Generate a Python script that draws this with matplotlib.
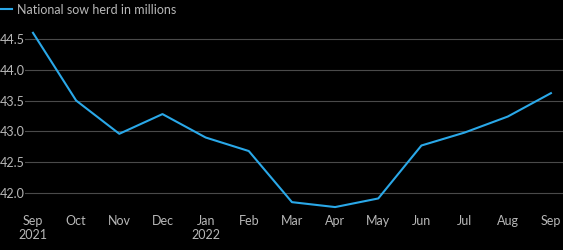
import matplotlib.pyplot as plt

months = ['Sep\n2021', 'Oct', 'Nov', 'Dec', 'Jan\n2022', 'Feb', 'Mar',
          'Apr', 'May', 'Jun', 'Jul', 'Aug', 'Sep']
sow_herd = [44.60, 43.50, 42.96, 43.28, 42.90, 42.68, 41.85,
            41.77, 41.91, 42.77, 42.98, 43.24, 43.62]
yticks = [42.0, 42.5, 43.0, 43.5, 44.0, 44.5]

plt.rcParams['font.family'] = ['Lato', 'DejaVu Sans']

fig = plt.figure(figsize=(5.63, 2.5), dpi=100, facecolor='black')
ax = fig.add_axes([25 / 563, 1 - 212 / 250, 1 - 25 / 563, 187 / 250])
ax.set_facecolor('black')

x = list(range(len(months)))
line, = ax.plot(x, sow_herd, color='#2aa8e8', lw=1.5,
                label='National sow herd in millions')

ax.set_xlim(-0.185, 12.28)
ax.set_ylim(41.69, 44.727)
ax.set_yticks(yticks)
ax.set_yticklabels([f'{v:.1f}' for v in yticks])
ax.set_xticks(x)
ax.set_xticklabels(months)
ax.grid(axis='y', color='#4a4a4a', lw=0.8)
ax.set_axisbelow(True)
for s in ax.spines.values():
    s.set_visible(False)

ax.tick_params(axis='both', length=0, colors='#b8b8b8', labelsize=9)
ax.tick_params(axis='y', pad=18)
for lbl in ax.get_yticklabels():
    lbl.set_horizontalalignment('left')
ax.tick_params(axis='x', pad=2)
for lbl in ax.get_xticklabels():
    lbl.set_linespacing(1.2)

leg = fig.legend(handles=[line], loc='upper left', bbox_to_anchor=(-0.018, 1.03),
                 frameon=False, fontsize=9, handlelength=0.85,
                 handletextpad=0.4, labelcolor='#b8b8b8')

fig.savefig('out.png', dpi=100, facecolor='black')
